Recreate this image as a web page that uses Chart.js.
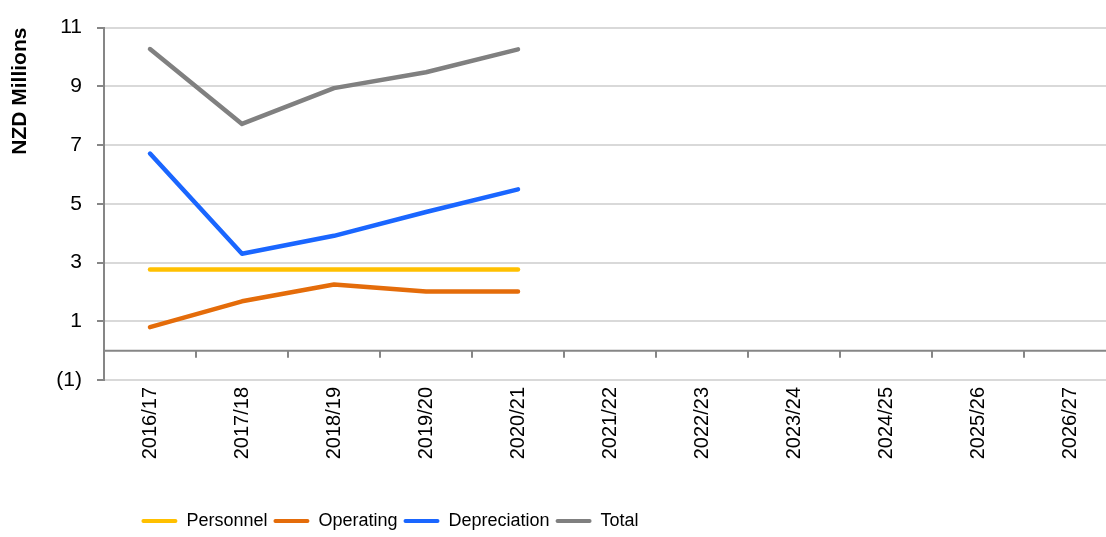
<!DOCTYPE html>
<html>
<head>
<meta charset="utf-8">
<script src="https://cdn.jsdelivr.net/npm/chart.js@4/dist/chart.umd.min.js"></script>
<style>
  html, body { margin: 0; padding: 0; background: #fff; }
  #wrap { width: 1106px; height: 537px; overflow: hidden; }
</style>
</head>
<body>
<div id="wrap"><canvas id="costs" width="1130" height="537"></canvas></div>
<script>
// years on the x axis (only the first five have figures so far)
const categories = ['2016/17', '2017/18', '2018/19', '2019/20', '2020/21', '2021/22',
  '2022/23', '2023/24', '2024/25', '2025/26', '2026/27'];
// NZD millions
const personnel = [2.76, 2.76, 2.76, 2.76, 2.76];
const operating = [0.80, 1.68, 2.25, 2.01, 2.01];
const depreciation = [6.71, 3.30, 3.91, 4.72, 5.49];
const total = [10.27, 7.72, 8.94, 9.48, 10.26];
const yTicks = [-1, 1, 3, 5, 7, 9, 11];

const AXIS_GREY = '#868686';
const GRID_GREY = '#d9d9d9';
const LEGEND_CENTRE = 393;
const LEGEND_PAD = 6;

Chart.defaults.font.family = '"Liberation Sans", Arial, sans-serif';
Chart.defaults.color = '#000';

function series(label, data, colour) {
  return {
    label: label,
    data: data,
    borderColor: colour,
    backgroundColor: colour,
    borderWidth: 4.5,
    borderCapStyle: 'round',
    borderJoinStyle: 'round',
    pointRadius: 0,
    pointHoverRadius: 0,
    tension: 0,
    fill: false
  };
}

// horizontal axis sits at zero, with small ticks between the years
const zeroAxis = {
  id: 'zeroAxis',
  beforeDatasetsDraw(chart) {
    const x = chart.scales.x, y = chart.scales.y, ctx = chart.ctx;
    const y0 = y.getPixelForValue(0);
    const half = (x.getPixelForValue(1) - x.getPixelForValue(0)) / 2;
    ctx.save();
    ctx.strokeStyle = AXIS_GREY;
    ctx.lineWidth = 2;
    ctx.beginPath();
    ctx.moveTo(chart.chartArea.left, y0);
    ctx.lineTo(chart.chartArea.right, y0);
    for (let i = 1; i <= categories.length; i++) {
      const px = Math.round(x.getPixelForValue(i) - half);
      ctx.moveTo(px, y0);
      ctx.lineTo(px, y0 + 7);
    }
    ctx.stroke();
    ctx.restore();
  }
};

// legend sits left of centre, under the plotted years
const legendPlace = {
  id: 'legendPlace',
  beforeDraw(chart) {
    const lg = chart.legend;
    lg.right = 2 * LEGEND_CENTRE - lg.left - LEGEND_PAD;
    lg.top = 521 - LEGEND_PAD - 9;
  }
};

new Chart(document.getElementById('costs'), {
  type: 'line',
  data: {
    labels: categories,
    datasets: [
      series('Personnel', personnel, '#ffc000'),
      series('Operating', operating, '#e46c0a'),
      series('Depreciation', depreciation, '#1a66ff'),
      series('Total', total, '#808080')
    ]
  },
  options: {
    responsive: false,
    animation: false,
    layout: { padding: { top: 25, left: 0, right: 14, bottom: 0 } },
    plugins: {
      tooltip: { enabled: false },
      legend: {
        position: 'bottom',
        labels: {
          boxWidth: 36,
          boxHeight: 4,
          padding: LEGEND_PAD,
          font: { size: 18 },
          color: '#000',
          generateLabels(chart) {
            return chart.data.datasets.map((ds, i) => ({
              text: ds.label,
              fillStyle: ds.borderColor,
              strokeStyle: ds.borderColor,
              lineWidth: 0,
              borderRadius: 2,
              hidden: false,
              datasetIndex: i
            }));
          }
        }
      }
    },
    scales: {
      x: {
        type: 'category',
        offset: true,
        grid: { display: false },
        border: { display: false },
        ticks: {
          minRotation: 90,
          maxRotation: 90,
          autoSkip: false,
          padding: -1,
          font: { size: 20 },
          color: '#000'
        },
        afterFit(scale) {
          scale.height = 537 - 380 - scale.chart.legend.height;
        }
      },
      y: {
        min: -1,
        max: 11,
        afterBuildTicks(scale) {
          scale.ticks = yTicks.map(v => ({ value: v }));
        },
        grid: {
          color: GRID_GREY,
          lineWidth: 2,
          tickLength: 7,
          tickColor: AXIS_GREY,
          tickWidth: 2
        },
        border: { color: AXIS_GREY, width: 2 },
        ticks: {
          padding: 15,
          font: { size: 21 },
          color: '#000',
          callback: v => v < 0 ? '(' + Math.abs(v) + ')' : String(v)
        },
        title: {
          display: true,
          align: 'end',
          text: 'NZD Millions',
          font: { size: 21, weight: 'bold' },
          color: '#000',
          padding: { top: 8, bottom: 0 }
        },
        afterFit(scale) {
          scale.width = 104;
        }
      }
    }
  },
  plugins: [zeroAxis, legendPlace]
});
</script>
</body>
</html>
